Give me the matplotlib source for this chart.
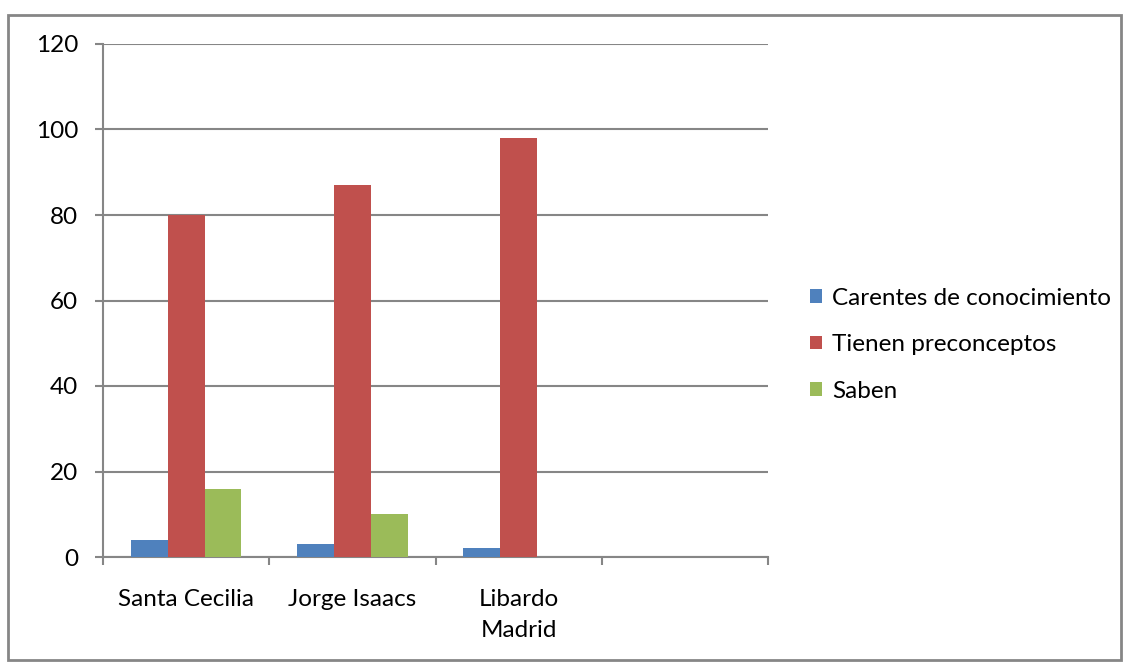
import numpy as np
import matplotlib.pyplot as plt
import matplotlib.patches as patches

plt.rcParams['font.family'] = ['Lato', 'DejaVu Sans']

# data
categories = ['Santa Cecilia', 'Jorge Isaacs', 'Libardo\nMadrid', '']
carentes = [4, 3, 2, 0]
tienen = [80, 87, 98, 0]
saben = [16, 10, 0, 0]
series_names = ['Carentes de conocimiento', 'Tienen preconceptos', 'Saben']
colors = ['#4f81bd', '#c0504d', '#9bbb59']

fs = 17.5
fig = plt.figure(figsize=(11.31, 6.69), dpi=100)
ax = fig.add_axes([103/1131, 1-557/669, 665/1131, 513/669])

x = np.arange(len(categories))
w = 0.222
for i, (vals, name, c) in enumerate(zip([carentes, tienen, saben], series_names, colors)):
    ax.bar(x + (i-1)*w, vals, width=w, color=c, label=name, zorder=3)

ax.set_xlim(-0.5, len(categories)-0.5)
ax.set_ylim(0, 120)
ax.set_yticks(np.arange(0, 121, 20))
ax.yaxis.grid(True, color='#868686', linewidth=1.5, zorder=0)
ax.set_xticks(x)
ax.set_xticklabels(categories, fontsize=fs, linespacing=1.6)
ax.set_xticks(np.arange(-0.5, len(categories), 1), minor=True)
ax.tick_params(axis='x', which='major', length=0, pad=23)
ax.tick_params(axis='x', which='minor', length=6, width=1.5, color='#868686', direction='out')
ax.tick_params(axis='y', length=6, width=1.5, color='#868686', labelsize=fs, pad=12)
for s in ['top', 'right']:
    ax.spines[s].set_visible(False)
for s in ['left', 'bottom']:
    ax.spines[s].set_color('#868686')
    ax.spines[s].set_linewidth(1.5)

leg = ax.legend(loc='center left', bbox_to_anchor=(1.049, 0.414), frameon=False,
                fontsize=fs, handlelength=0.5, handleheight=0.5, handletextpad=0.4,
                labelspacing=1.05, borderaxespad=0)

# outer chart border
fig.patches.append(patches.Rectangle((8/1131, 1-660/669), 1113/1131, 645/669,
                                     transform=fig.transFigure, fill=False,
                                     edgecolor='#868686', linewidth=2))

fig.savefig('out.png', dpi=100)
